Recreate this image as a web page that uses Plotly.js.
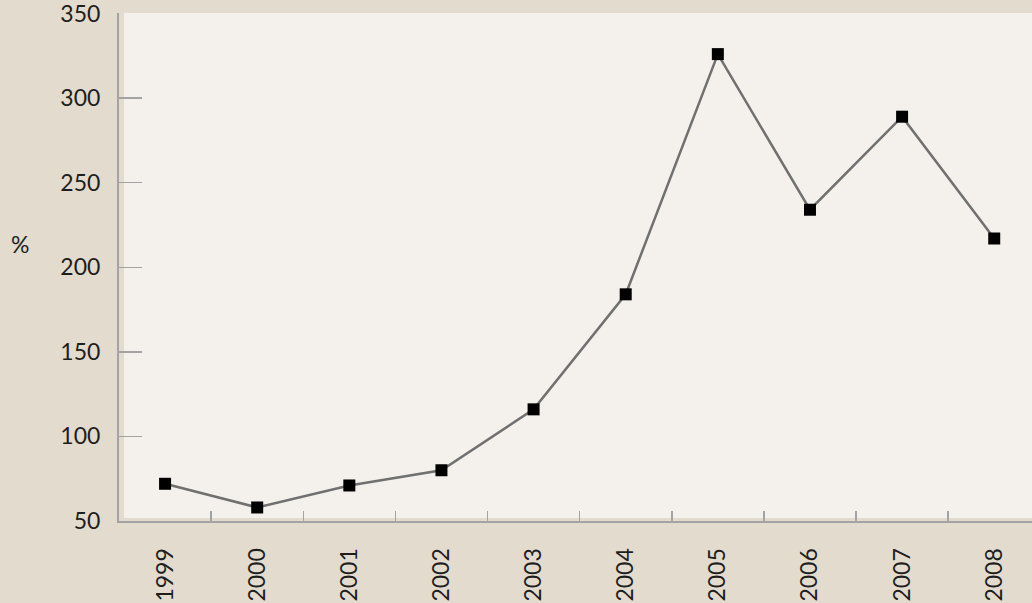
<!DOCTYPE html>
<html>
<head>
<meta charset="utf-8">
<script src="https://cdn.plot.ly/plotly-3.0.1.min.js"></script>
<style>html,body{margin:0;padding:0;background:#e4dbcf;}#chart{width:1032px;height:603px;}</style>
</head>
<body>
<div id="chart"></div>
<script>
const years = ['1999','2000','2001','2002','2003','2004','2005','2006','2007','2008'];
const values = [72, 58, 71, 80, 116, 184, 326, 234, 289, 217];
const yTicks = [50, 100, 150, 200, 250, 300, 350];
const yTickLabels = ['50', '100', '150', '200', '250', '300', '350'];

const outerBg = '#e4dbcf';
const plotBg = '#f4f1ec';
const axisGrey = '#a3a3a3';
const fontFam = 'Lato, "Open Sans", sans-serif';

const trace = {
  x: years,
  y: values,
  type: 'scatter',
  mode: 'lines+markers',
  line: {color: '#707070', width: 2.5},
  marker: {symbol: 'square', size: 12, color: '#000000'},
  hoverinfo: 'x+y',
  cliponaxis: false
};

const layout = {
  width: 1032,
  height: 603,
  paper_bgcolor: outerBg,
  plot_bgcolor: outerBg,
  margin: {l: 119, r: 0, t: 13, b: 82, pad: 0},
  showlegend: false,
  font: {family: fontFam, color: '#1e1e1e', size: 23},
  xaxis: {
    type: 'category',
    range: [-0.5, 9.41],
    showgrid: false,
    zeroline: false,
    showline: true,
    linecolor: axisGrey,
    linewidth: 2,
    ticks: 'inside',
    tickson: 'boundaries',
    ticklen: 10,
    tickwidth: 1.5,
    tickcolor: axisGrey,
    tickangle: -90,
    ticklabelstandoff: 16,
    ticklabeloverflow: 'allow',
    tickfont: {family: fontFam, size: 23, color: '#1e1e1e'}
  },
  yaxis: {
    range: [50, 350.3],
    tickvals: yTicks,
    ticktext: yTickLabels,
    showgrid: false,
    zeroline: false,
    showline: true,
    linecolor: axisGrey,
    linewidth: 2,
    ticks: 'inside',
    ticklen: 23,
    tickwidth: 1.5,
    tickcolor: axisGrey,
    ticklabelstandoff: 12,
    ticklabeloverflow: 'allow',
    tickfont: {family: fontFam, size: 23, color: '#1e1e1e'}
  },
  shapes: [{
    type: 'rect',
    layer: 'below',
    xref: 'paper', yref: 'paper',
    xsizemode: 'pixel', ysizemode: 'pixel',
    xanchor: 0, yanchor: 0,
    x0: 5, x1: 913, y0: 3, y1: 508,
    fillcolor: plotBg,
    line: {width: 0}
  }],
  annotations: [{
    text: '%',
    xref: 'paper', yref: 'paper',
    x: -0.108, y: 0.545,
    xanchor: 'center', yanchor: 'middle',
    showarrow: false,
    font: {family: fontFam, size: 23, color: '#1e1e1e'}
  }]
};

Plotly.newPlot('chart', [trace], layout, {displayModeBar: false, staticPlot: true});
</script>
</body>
</html>
